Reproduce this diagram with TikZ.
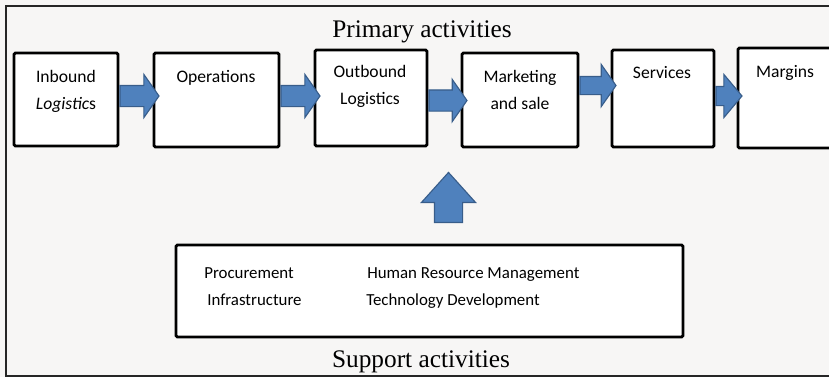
\documentclass[tikz,border=0pt]{standalone}
\usepackage{fontspec}
\setmainfont{Liberation Serif}
\newfontfamily\calib{Carlito}
\usetikzlibrary{shapes.arrows, positioning}

\definecolor{arrowblue}{RGB}{79,129,189}
\definecolor{arrowedge}{RGB}{56,93,138}
\definecolor{paper}{RGB}{247,246,245}

\begin{document}
\begin{tikzpicture}[
    x=0.025cm, y=-0.025cm,
    stage/.style={rectangle, draw, line width=2pt, rounded corners=1pt, fill=white, inner sep=0pt},
    lbl/.style={font=\calib\fontsize{12.5}{19}\selectfont, align=center, anchor=north, inner sep=0pt},
    item/.style={font=\calib\fontsize{12}{14}\selectfont, anchor=base west, inner sep=0pt},
    title/.style={font=\fontsize{18}{20}\selectfont, anchor=base, inner sep=0pt},
    flow/.style={single arrow, draw=arrowedge, fill=arrowblue, line width=0.8pt,
        inner xsep=0pt, inner ysep=0.25cm, anchor=tail,
        minimum height=0.975cm, single arrow head extend=0.275cm,
        single arrow tip angle=110},
]

% background and frame
\fill[paper] (0,0) rectangle (829,377);
\useasboundingbox (0,0) rectangle (829,377);
\draw[line width=1.4pt, black!85] (829,6) -- (6,6) -- (6,376) -- (829,376);

% Primary activities
\node[title] (primary) at (422,37) {Primary activities};

\node[stage, minimum width=2.6cm, minimum height=2.325cm] (inb) at (66,99.5) {};
\node[stage, minimum width=3.125cm, minimum height=2.35cm] (ops) at (216.5,100) {};
\node[stage, minimum width=2.8cm, minimum height=2.4cm] (outb) at (371,98) {};
\node[stage, minimum width=2.9cm, minimum height=2.35cm] (mkt) at (520,100) {};
\node[stage, minimum width=2.55cm, minimum height=2.425cm] (srv) at (663,98.5) {};
\node[stage, minimum width=2.8cm, minimum height=2.5cm] (mrg) at (794,98) {};

\node[lbl] (inbtext) at (66,70) {Inbound\\\textit{Logistic}s};
\node[lbl] (opstext) at (216,70) {Operations};
\node[lbl] (outbtext) at (370,65) {Outbound\\Logistics};
\node[lbl] (mkttext) at (520,70) {Marketing\\and sale};
\node[lbl] (srvtext) at (662,66) {Services};
\node[lbl] (mrgtext) at (785,65) {Margins};

% block arrows between the stages
\node[flow] (a1) at (inb.east |- 0,96) {};
\node[flow] (a2) at (ops.east |- 0,96) {};
\node[flow, minimum height=0.95cm, single arrow head extend=0.2625cm] (a3) at (outb.east |- 0,100.5) {};
\node[flow, minimum height=0.9cm, inner ysep=0.2125cm, single arrow head extend=0.3cm] (a4) at (mkt.east |- 0,85.5) {};
\node[flow, minimum height=0.65cm, inner ysep=0.225cm, single arrow head extend=0.3cm,
    single arrow tip angle=100] (a5) at (srv.east |- 0,96) {};

% Support activities
\node[flow, rotate=90, minimum height=1.25cm, inner ysep=0.3375cm,
    single arrow head extend=0.325cm, single arrow tip angle=84] (up) at (448.5,223) {};

\node[stage, minimum width=12.675cm, minimum height=2.3cm] (sup) at (429.5,291) {};
\node[item] (proc) at (204,278) {Procurement};
\node[item] (infra) at (207,305) {Infrastructure};
\node[item] (hrm) at (367,278) {Human Resource Management};
\node[item] (tech) at (366,305) {Technology Development};

\node[title] (support) at (421,367) {Support activities};

\end{tikzpicture}
\end{document}
